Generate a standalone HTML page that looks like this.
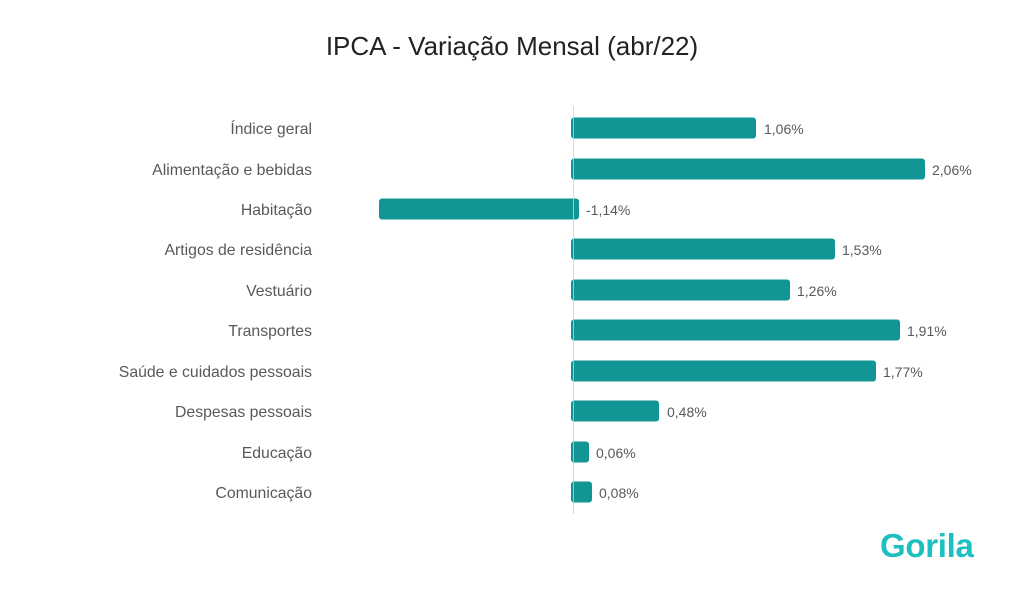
<!DOCTYPE html>
<html><head><meta charset="utf-8"><style>
body{margin:0;width:1024px;height:592px;background:#fff;font-family:"Liberation Sans",sans-serif;position:relative;overflow:hidden}
.t{position:absolute;left:0;width:1024px;top:31px;text-align:center;font-size:26px;color:#222}
.l{position:absolute;right:712px;font-size:15.8px;color:#595959;white-space:nowrap;transform:translateY(-50%);margin-top:2px}
.b{position:absolute;height:21px;background:#119595;border-radius:3px;transform:translateY(-50%)}
.v{position:absolute;font-size:14px;color:#595959;transform:translateY(-50%)}
.ax{position:absolute;left:573px;top:106px;width:1px;height:408px;background:#d0d0d0;z-index:2;opacity:.8}
.logo{position:absolute;left:880px;top:527px;font-size:33px;font-weight:bold;color:#1cc0c0;letter-spacing:-0.3px}
</style></head><body>
<div class="t">IPCA - Variação Mensal (abr/22)</div>
<div class="ax"></div>
<div class="l" style="top:128px">Índice geral</div><div class="b" style="top:128px;left:571px;width:185px"></div><div class="v" style="top:129px;left:764px">1,06%</div>
<div class="l" style="top:169px">Alimentação e bebidas</div><div class="b" style="top:169px;left:571px;width:354px"></div><div class="v" style="top:170px;left:932px">2,06%</div>
<div class="l" style="top:209px">Habitação</div><div class="b" style="top:209px;left:379px;width:200px"></div><div class="v" style="top:210px;left:586px">-1,14%</div>
<div class="l" style="top:249px">Artigos de residência</div><div class="b" style="top:249px;left:571px;width:264px"></div><div class="v" style="top:250px;left:842px">1,53%</div>
<div class="l" style="top:290px">Vestuário</div><div class="b" style="top:290px;left:571px;width:219px"></div><div class="v" style="top:291px;left:797px">1,26%</div>
<div class="l" style="top:330px">Transportes</div><div class="b" style="top:330px;left:571px;width:329px"></div><div class="v" style="top:331px;left:907px">1,91%</div>
<div class="l" style="top:371px">Saúde e cuidados pessoais</div><div class="b" style="top:371px;left:571px;width:305px"></div><div class="v" style="top:372px;left:883px">1,77%</div>
<div class="l" style="top:411px">Despesas pessoais</div><div class="b" style="top:411px;left:571px;width:88px"></div><div class="v" style="top:412px;left:667px">0,48%</div>
<div class="l" style="top:452px">Educação</div><div class="b" style="top:452px;left:571px;width:18px"></div><div class="v" style="top:453px;left:596px">0,06%</div>
<div class="l" style="top:492px">Comunicação</div><div class="b" style="top:492px;left:571px;width:21px"></div><div class="v" style="top:493px;left:599px">0,08%</div>
<div class="logo">Gorila</div>
</body></html>
